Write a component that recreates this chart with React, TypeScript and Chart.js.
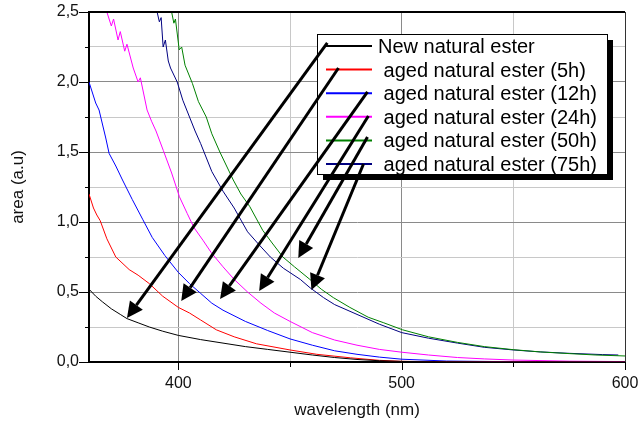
import React, { useEffect, useRef } from 'react';
import { Chart, registerables } from 'chart.js';

Chart.register(...registerables);

const W = 639;
const H = 423;
const FONT = "Arial, 'Liberation Sans', Helvetica, sans-serif";

const seriesLabels = [
  'New natural ester',
  ' aged natural ester (5h)',
  ' aged natural ester (12h)',
  ' aged natural ester (24h)',
  ' aged natural ester (50h)',
  ' aged natural ester (75h)',
];
const seriesColors = ['#000000', '#ff0000', '#0000ff', '#ff00ff', '#008000', '#000080'];

// [wavelength (nm), area (a.u)]
const newEster: [number, number][] = [
  [360, 0.52], [363, 0.47], [366, 0.43], [370, 0.38], [374, 0.34], [377, 0.31], [382, 0.28],
  [387, 0.25], [393, 0.22], [400, 0.19], [410, 0.16], [420, 0.135], [430, 0.11], [440, 0.09],
  [450, 0.07], [460, 0.05], [470, 0.032], [480, 0.018], [490, 0.009], [500, 0.004], [520, 0.001],
  [560, 0], [600, 0],
];
const aged5h: [number, number][] = [
  [360, 1.2], [361, 1.15], [362, 1.1], [363.5, 1.05], [365, 1.01], [368, 0.88], [372, 0.75],
  [378, 0.66], [382, 0.62], [387, 0.56], [393, 0.47], [400, 0.39], [405, 0.35], [410, 0.3],
  [417, 0.23], [425, 0.18], [435, 0.13], [450, 0.086], [462, 0.055], [477, 0.03], [490, 0.012],
  [500, 0.005], [520, 0.001], [600, 0],
];
const aged12h: [number, number][] = [
  [360, 2.0], [361, 1.95], [362, 1.9], [363, 1.85], [364.5, 1.8], [366, 1.7], [367.5, 1.6],
  [369, 1.49], [372, 1.4], [375, 1.3], [379.4, 1.16], [384, 1.02], [388.3, 0.89], [394, 0.76],
  [400, 0.64], [405, 0.56], [410, 0.49], [415, 0.42], [420, 0.37], [430, 0.29], [440, 0.225],
  [450, 0.165], [460, 0.12], [470, 0.08], [480, 0.055], [490, 0.035], [500, 0.02], [520, 0.007],
  [550, 0.002], [600, 0],
];
const aged24h: [number, number][] = [
  [368, 2.5], [370, 2.4], [371, 2.45], [373, 2.3], [374, 2.36], [376, 2.22], [377, 2.27],
  [379.8, 2.1], [382, 2.0], [383, 2.03], [386, 1.8], [388, 1.72], [390, 1.65], [393.3, 1.51],
  [397, 1.35], [400.5, 1.18], [404, 1.06], [407, 0.96], [411, 0.87], [414.8, 0.78], [420, 0.68],
  [425, 0.59], [431, 0.5], [437, 0.42], [443, 0.35], [450, 0.29], [460, 0.21], [470, 0.157],
  [480, 0.12], [490, 0.09], [500, 0.07], [512, 0.05], [525, 0.032], [537, 0.022], [550, 0.014],
  [575, 0.006], [600, 0.003],
];
const aged50h: [number, number][] = [
  [397, 2.5], [398, 2.42], [398.7, 2.45], [400.4, 2.23], [401.5, 2.25], [403, 2.12], [406.3, 1.99],
  [409, 1.86], [412.5, 1.75], [415, 1.63], [418.6, 1.5], [424.6, 1.3], [428, 1.2], [432, 1.11],
  [437.8, 0.94], [442, 0.85], [446.8, 0.75], [452, 0.68], [458.9, 0.59], [464, 0.52], [469.4, 0.46],
  [476.8, 0.39], [485, 0.32], [492, 0.28], [500.4, 0.23], [512, 0.18], [525, 0.14], [537, 0.11],
  [550, 0.088], [562, 0.072], [575, 0.06], [587, 0.05], [600, 0.043],
];
const aged75h: [number, number][] = [
  [390.5, 2.5], [391.5, 2.43], [392.3, 2.46], [393.2, 2.25], [394.2, 2.3], [395.5, 2.15],
  [396.5, 2.1], [399.5, 2.0], [402, 1.87], [405, 1.75], [407.5, 1.65], [410, 1.56], [415, 1.36],
  [420, 1.22], [425, 1.1], [431, 0.93], [436, 0.84], [441.2, 0.75], [447, 0.67], [454.6, 0.59],
  [459, 0.53], [465, 0.46], [470, 0.41], [480, 0.34], [490, 0.27], [500, 0.21], [512, 0.17],
  [525, 0.135], [537, 0.105], [550, 0.086], [562, 0.072], [575, 0.062], [590, 0.053], [597, 0.05],
];
const allSeries = [newEster, aged5h, aged12h, aged24h, aged50h, aged75h];

// arrow annotations in data units: start [nm, a.u] -> tip [nm, a.u]
const arrowStarts: [number, number][] = [
  [466.7, 2.279], [471.7, 2.1], [484.7, 1.929], [485.1, 1.757], [484.7, 1.607], [482.9, 1.414],
];
const arrowTips: [number, number][] = [
  [377.0, 0.314], [401.3, 0.436], [418.7, 0.45], [436.2, 0.507], [453.7, 0.743], [459.6, 0.514],
];

const X_MIN = 360;
const X_MAX = 600;
const Y_MIN = 0;
const Y_MAX = 2.5;

const isHalf = (v: number) => Math.abs(v * 2 - Math.round(v * 2)) < 1e-6;

const decorPlugin = {
  id: 'decor',
  afterDatasetsDraw(chart: any) {
    const { ctx, chartArea: ca, scales } = chart;
    const xs = scales.x;
    const ys = scales.y;
    ctx.save();
    // tick marks (major longer, minor shorter)
    ctx.strokeStyle = '#000';
    ctx.lineWidth = 1;
    ys.ticks.forEach((t: any) => {
      const py = Math.round(ys.getPixelForValue(t.value)) + 0.5;
      const len = isHalf(t.value) ? 10 : 4;
      ctx.beginPath();
      ctx.moveTo(ca.left - len, py);
      ctx.lineTo(ca.left, py);
      ctx.stroke();
    });
    xs.ticks.forEach((t: any) => {
      if (t.value === X_MIN) return;
      const px = Math.round(xs.getPixelForValue(t.value)) + 0.5;
      const len = t.value % 100 === 0 ? 8 : 5;
      ctx.beginPath();
      ctx.moveTo(px, ca.bottom);
      ctx.lineTo(px, ca.bottom + len);
      ctx.stroke();
    });
    // frame top + right
    ctx.strokeStyle = '#000';
    ctx.lineWidth = 2;
    ctx.beginPath();
    ctx.moveTo(ca.left, ca.top);
    ctx.lineTo(ca.right, ca.top);
    ctx.stroke();
    ctx.strokeStyle = '#333';
    ctx.lineWidth = 1;
    ctx.beginPath();
    ctx.moveTo(ca.right + 0.5, ca.top);
    ctx.lineTo(ca.right + 0.5, ca.bottom);
    ctx.stroke();

    // legend box with shadow
    const bx = ca.left + 228;
    const by = ca.top + 22;
    const bw = 290;
    const bh = 140;
    ctx.fillStyle = '#000';
    ctx.fillRect(bx + 6, by + 6, bw, bh);
    ctx.fillStyle = '#fff';
    ctx.fillRect(bx, by, bw, bh);
    ctx.strokeStyle = '#000';
    ctx.lineWidth = 1;
    ctx.strokeRect(bx + 0.5, by + 0.5, bw, bh);
    chart.data.datasets.forEach((ds: any, i: number) => {
      const ry = by + 12 + i * 23.6;
      ctx.strokeStyle = ds.borderColor;
      ctx.lineWidth = 2;
      ctx.beginPath();
      ctx.moveTo(bx + 9, ry);
      ctx.lineTo(bx + 55, ry);
      ctx.stroke();
      ctx.fillStyle = '#000';
      ctx.font = `20px ${FONT}`;
      ctx.textBaseline = 'alphabetic';
      ctx.textAlign = 'left';
      ctx.fillText(ds.label, bx + 61, ry + 7);
    });

    // arrows
    ctx.strokeStyle = '#000';
    ctx.fillStyle = '#000';
    ctx.lineWidth = 3;
    arrowStarts.forEach((s, i) => {
      const t = arrowTips[i];
      const x1 = xs.getPixelForValue(s[0]);
      const y1 = ys.getPixelForValue(s[1]);
      const x2 = xs.getPixelForValue(t[0]);
      const y2 = ys.getPixelForValue(t[1]);
      const ang = Math.atan2(y2 - y1, x2 - x1);
      const hl = 16;
      const hw = 8;
      const bxp = x2 - hl * Math.cos(ang);
      const byp = y2 - hl * Math.sin(ang);
      ctx.beginPath();
      ctx.moveTo(x1, y1);
      ctx.lineTo(bxp, byp);
      ctx.stroke();
      ctx.beginPath();
      ctx.moveTo(x2, y2);
      ctx.lineTo(bxp + hw * Math.sin(ang), byp - hw * Math.cos(ang));
      ctx.lineTo(bxp - hw * Math.sin(ang), byp + hw * Math.cos(ang));
      ctx.closePath();
      ctx.fill();
    });
    ctx.restore();
  },
};

export default function App() {
  const ref = useRef<HTMLCanvasElement | null>(null);
  useEffect(() => {
    if (!ref.current) return;
    const chart = new Chart(ref.current, {
      type: 'line',
      data: {
        datasets: allSeries.map((s, i) => ({
          label: seriesLabels[i],
          data: s.map(([x, y]) => ({ x, y })),
          borderColor: seriesColors[i],
          backgroundColor: seriesColors[i],
          borderWidth: 1,
          pointRadius: 0,
          tension: 0,
          fill: false,
        })),
      },
      options: {
        responsive: false,
        animation: false,
        devicePixelRatio: 1,
        layout: { padding: { top: 12, right: 14, left: 0, bottom: 0 } },
        plugins: { legend: { display: false }, tooltip: { enabled: false } },
        scales: {
          x: {
            type: 'linear',
            min: X_MIN,
            max: X_MAX,
            ticks: {
              stepSize: 50,
              autoSkip: false,
              maxRotation: 0,
              padding: 12,
              color: '#111',
              font: { family: FONT, size: 16 },
              callback: (v: any) => (Number(v) % 100 === 0 ? String(v) : ''),
            },
            grid: {
              color: (c: any) =>
                c.tick && c.tick.value === X_MIN ? 'rgba(0,0,0,0)' : c.tick && c.tick.value % 100 === 0 ? '#8a8a8a' : '#c8c8c8',
              drawTicks: false,
              lineWidth: 1,
            },
            border: { color: '#000', width: 2 },
            title: {
              display: true,
              text: 'wavelength (nm)',
              color: '#111',
              font: { family: FONT, size: 17 },
              padding: { top: 0, bottom: 2 },
            },
            afterFit: (s: any) => {
              s.height = 61;
              s.paddingLeft = 0;
              s.paddingRight = 0;
            },
          },
          y: {
            type: 'linear',
            min: Y_MIN,
            max: Y_MAX,
            ticks: {
              stepSize: 0.25,
              autoSkip: false,
              padding: 10,
              color: '#111',
              font: { family: FONT, size: 16 },
              callback: (v: any) => {
                const n = Number(v);
                return isHalf(n) ? n.toFixed(1).replace('.', ',') : '';
              },
            },
            grid: {
              color: (c: any) => {
                const v = c.tick ? c.tick.value : 0;
                return isHalf(v) ? '#8a8a8a' : '#c8c8c8';
              },
              drawTicks: false,
              lineWidth: 1,
            },
            border: { color: '#000', width: 2 },
            title: {
              display: true,
              text: 'area (a.u)',
              color: '#111',
              font: { family: FONT, size: 17 },
              padding: { top: 8, bottom: 0 },
            },
            afterFit: (s: any) => {
              s.width = 89;
              s.paddingTop = 0;
              s.paddingBottom = 0;
            },
          },
        },
      },
      plugins: [decorPlugin],
    } as any);
    return () => chart.destroy();
  }, []);
  return (
    <div style={{ position: 'fixed', left: 0, top: 0, width: W, height: H, background: '#fff' }}>
      <canvas ref={ref} width={W} height={H} style={{ display: 'block', width: W, height: H }} />
    </div>
  );
}
